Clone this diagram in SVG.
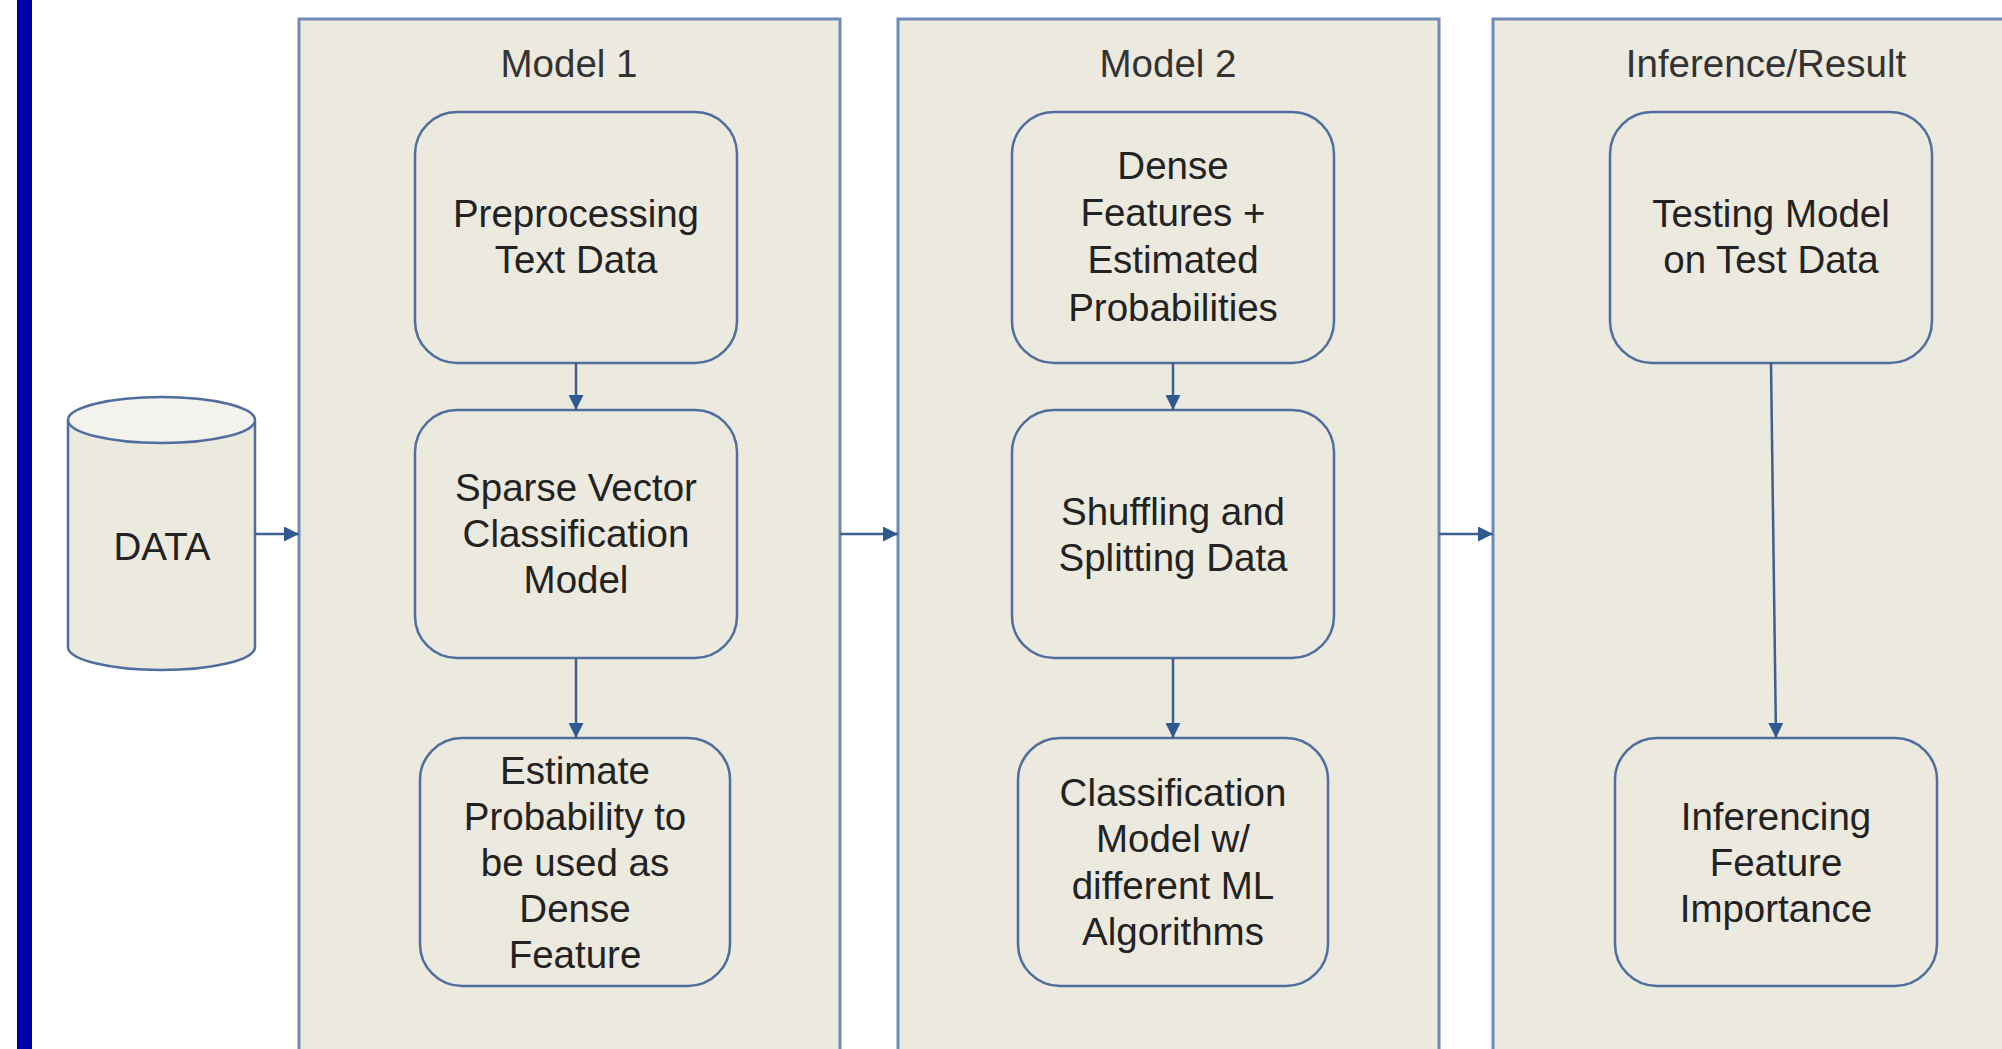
<svg xmlns="http://www.w3.org/2000/svg" width="2002" height="1049" viewBox="0 0 2002 1049">
<defs>
<style>
.panel{fill:#ECE9DF;stroke:#6F8BB5;stroke-width:3}
.node{fill:#ECE9DF;stroke:#4F6E9E;stroke-width:2.5}
.t{font-family:"Liberation Sans",Arial,sans-serif;font-size:38.5px;fill:#222;text-anchor:middle}
.title{font-family:"Liberation Sans",Arial,sans-serif;font-size:38.5px;fill:#333;text-anchor:middle}
.edge{stroke:#3E5F92;stroke-width:2.5;fill:none;marker-end:url(#ah)}
</style>
<marker id="ah" viewBox="0 0 10 10" refX="10" refY="5" markerWidth="6" markerHeight="6" markerUnits="strokeWidth" orient="auto">
<path d="M0,0 L10,5 L0,10 z" fill="#2F5A8F"/>
</marker>
</defs>
<rect width="2002" height="1049" fill="#FFFFFF"/>
<rect x="17" y="0" width="15" height="1049" fill="#0000AA"/>

<g id="panel-model1">
<rect class="panel" x="299" y="19" width="541" height="1040"/>
<text class="title" x="569" y="77">Model 1</text>
</g>
<g id="panel-model2">
<rect class="panel" x="898" y="19" width="541" height="1040"/>
<text class="title" x="1168" y="77">Model 2</text>
</g>
<g id="panel-inference">
<rect class="panel" x="1493" y="19" width="520" height="1040"/>
<text class="title" x="1766" y="77">Inference/Result</text>
</g>

<g id="data">
<path class="node" d="M68,420 L68,647 A93.5,23 0 0 0 255,647 L255,420" />
<ellipse cx="161.5" cy="420" rx="93.5" ry="23" fill="#F3F2EC" stroke="#4F6E9E" stroke-width="2.5"/>
<text class="t" x="162" y="560">DATA</text>
</g>

<g id="preprocessing">
<rect class="node" x="415" y="112" width="322" height="251" rx="42"/>
<text class="t" x="576" y="227">Preprocessing</text>
<text class="t" x="576" y="273">Text Data</text>
</g>
<g id="sparse-vector">
<rect class="node" x="415" y="410" width="322" height="248" rx="42"/>
<text class="t" x="576" y="501">Sparse Vector</text>
<text class="t" x="576" y="547">Classification</text>
<text class="t" x="576" y="593">Model</text>
</g>
<g id="estimate">
<rect class="node" x="420" y="738" width="310" height="248" rx="42"/>
<text class="t" x="575" y="784">Estimate</text>
<text class="t" x="575" y="830">Probability to</text>
<text class="t" x="575" y="876">be used as</text>
<text class="t" x="575" y="922">Dense</text>
<text class="t" x="575" y="968">Feature</text>
</g>

<g id="dense-features">
<rect class="node" x="1012" y="112" width="322" height="251" rx="42"/>
<text class="t" x="1173" y="179">Dense</text>
<text class="t" x="1173" y="226">Features +</text>
<text class="t" x="1173" y="273">Estimated</text>
<text class="t" x="1173" y="321">Probabilities</text>
</g>
<g id="shuffling">
<rect class="node" x="1012" y="410" width="322" height="248" rx="42"/>
<text class="t" x="1173" y="525">Shuffling and</text>
<text class="t" x="1173" y="571">Splitting Data</text>
</g>
<g id="classification">
<rect class="node" x="1018" y="738" width="310" height="248" rx="42"/>
<text class="t" x="1173" y="806">Classification</text>
<text class="t" x="1173" y="852">Model w/</text>
<text class="t" x="1173" y="899">different ML</text>
<text class="t" x="1173" y="945">Algorithms</text>
</g>

<g id="testing">
<rect class="node" x="1610" y="112" width="322" height="251" rx="42"/>
<text class="t" x="1771" y="227">Testing Model</text>
<text class="t" x="1771" y="273">on Test Data</text>
</g>
<g id="inferencing">
<rect class="node" x="1615" y="738" width="322" height="248" rx="42"/>
<text class="t" x="1776" y="830">Inferencing</text>
<text class="t" x="1776" y="876">Feature</text>
<text class="t" x="1776" y="922">Importance</text>
</g>

<g id="connectors">
<line class="edge" x1="255" y1="534" x2="299" y2="534"/>
<line class="edge" x1="840" y1="534" x2="898" y2="534"/>
<line class="edge" x1="1439" y1="534" x2="1493" y2="534"/>
<line class="edge" x1="576" y1="363" x2="576" y2="410"/>
<line class="edge" x1="576" y1="658" x2="576" y2="738"/>
<line class="edge" x1="1173" y1="363" x2="1173" y2="410"/>
<line class="edge" x1="1173" y1="658" x2="1173" y2="738"/>
<line class="edge" x1="1771" y1="363" x2="1776" y2="738"/>
</g>
</svg>
